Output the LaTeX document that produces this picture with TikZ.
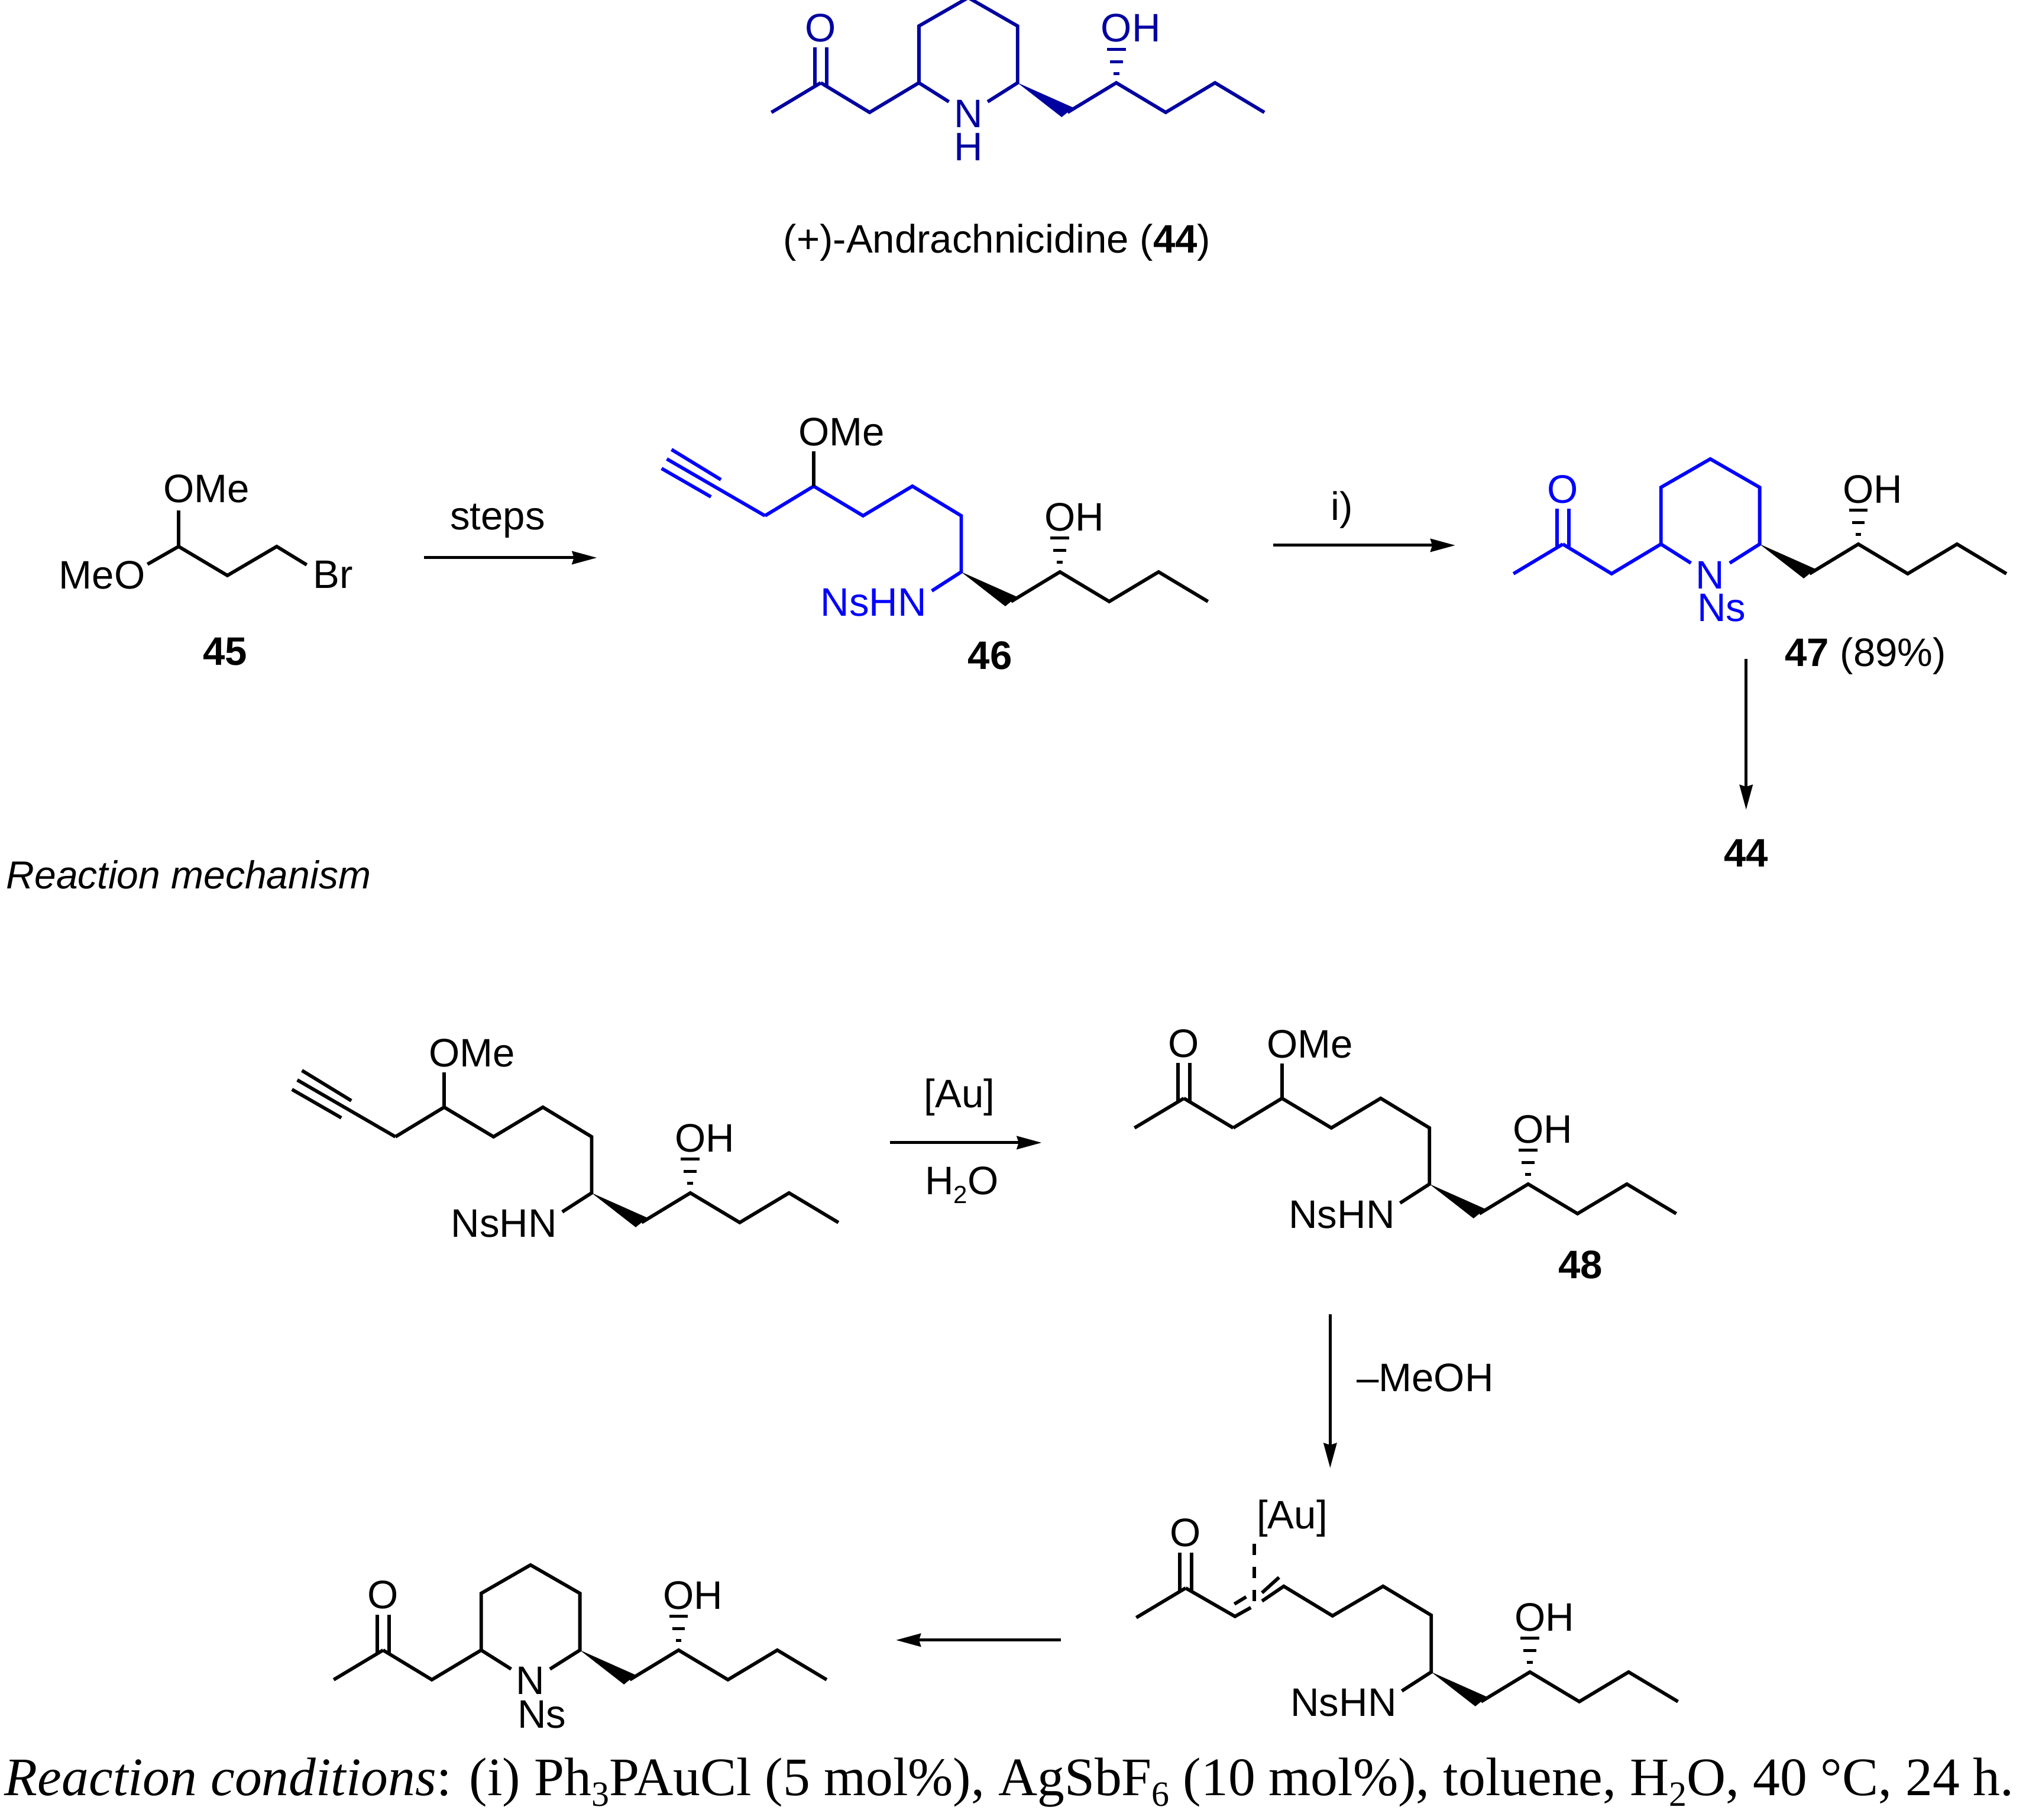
\documentclass[tikz,border=0pt]{standalone}
\usepackage{fontspec}
\setmainfont{Liberation Serif}
\newfontfamily\chemfont{Liberation Sans}
\usetikzlibrary{arrows.meta}
\definecolor{andblue}{RGB}{0,0,160}
\definecolor{purblue}{RGB}{0,0,255}
\newcommand{\chemtext}{\fontsize{16.8}{19}\selectfont\chemfont}
\newcommand{\subdigit}[1]{\raisebox{-3.75pt}{\fontsize{10.5}{12}\selectfont #1}}
\newcommand{\subserif}[1]{\raisebox{-4.5pt}{\fontsize{15}{16}\selectfont #1}}

\tikzset{
  bond/.style={line width=1.45pt},
  atom/.style={inner sep=0pt,outer sep=0pt,font=\chemtext},
  rxnarrow/.style={line width=1.25pt,-{Stealth[length=10.5pt,width=5.5pt,inset=0.8pt]}}
}

% hydroxy tail, origin on the carbon carrying the wedge
\newcommand{\tailpart}{
\fill (0,0)--(75,58)--(95,42)--cycle;
\draw[bond] (85,50)--(168,0)--(252,50)--(336,0)--(420,50);
\fill (152,-59.5) rectangle (184,-54.5);
\fill (157,-38.5) rectangle (179,-33.5);
\fill (163,-18.5) rectangle (173,-13.5);
\node[atom,anchor=base west] (oh) at (142,-69.5) {OH};
}

% ring, origin on the same carbon
\newcommand{\ringpart}{
\draw[bond] (-117,32)--(-168,0)--(-168,-96)--(-84,-144)--(0,-96)--(0,0)--(-51,32);
\draw[bond] (-335,0)--(-252,50)--(-168,0);
\node[atom] (ringn) at (-84,52) {N};
}

% methyl ketone, origin on the carbonyl carbon
\newcommand{\ketonepart}{
\draw[bond] (-84,50)--(0,0);
\draw[bond] (-10,4)--(-10,-60);
\draw[bond] (10,4)--(10,-60);
\node[atom] (keto) at (0,-93) {O};
}

% open chain with NsHN, origin on the carbon carrying the wedge
\newcommand{\chainpart}{
\draw[bond] (-50,32)--(0,0)--(0,-95)--(-83,-145)--(-167,-95)--(-251,-145)--(-334,-95);
\node[atom,anchor=base east] (nshn) at (-59,75) {NsHN};
}

\newcommand{\omepart}{
\draw[bond] (-251,-145)--(-251,-204);
\node[atom,anchor=base west] (ome) at (-277,-213.5) {OMe};
}

\newcommand{\alkynepart}{
\draw[bond] (-334,-95)--(-501,-191);
\draw[bond] (-493,-207)--(-409,-156);
\draw[bond] (-510,-175)--(-426,-127);
}

\begin{document}
\begin{tikzpicture}[x=0.2484pt,y=-0.25pt]
\useasboundingbox (0,0) rectangle (3448.4,3077);

% (+)-Andrachnicidine
\begin{scope}[shift={(1732,140)},name prefix=a-,color=andblue]{
\ringpart
\begin{scope}[shift={(-335,0)}]{\ketonepart} \end{scope}
\tailpart
\node[atom] (ringh) at (-84,108) {H};
} \end{scope}
\node[atom,anchor=base] (title) at (1697,428) {(+)-Andrachnicidine (\textbf{44})};

% 45
\draw[bond] (251,954)--(304,924)--(387,973)--(471,924)--(522,955);
\draw[bond] (304,924)--(304,863);
\node[atom,anchor=base east] (meo) at (247,996) {MeO};
\node[atom,anchor=base west] (ome45) at (278,850) {OMe};
\node[atom,anchor=base west] (br) at (533,995) {Br};
\node[atom,anchor=base] (lab45) at (383,1125) {\textbf{45}};

% steps arrow
\coordinate (stepsfrom) at (722,943);
\coordinate (stepsto) at (1016,943);
\draw[rxnarrow] (stepsfrom)--(stepsto);
\node[atom,anchor=base] (steps) at (847,896) {steps};

% 46
\begin{scope}[shift={(1636,967)},name prefix=b-]{
\begin{scope}[color=purblue]{\chainpart \alkynepart} \end{scope}
\omepart
\tailpart
} \end{scope}
\node[atom,anchor=base] (lab46) at (1685,1132) {\textbf{46}};

% i) arrow
\coordinate (ifrom) at (2167,922);
\coordinate (ito) at (2477,922);
\draw[rxnarrow] (ifrom)--(ito);
\node[atom,anchor=base] (condi) at (2284,880) {i)};

% 47
\begin{scope}[shift={(2995,920)},name prefix=c-]{
\begin{scope}[color=purblue]{
\ringpart
\begin{scope}[shift={(-335,0)}]{\ketonepart} \end{scope}
\node[atom,anchor=base west] (ns) at (-106,131) {Ns};
} \end{scope}
\tailpart
} \end{scope}
\node[atom,anchor=base west] (lab47) at (3038,1127) {\textbf{47} (89\%)};

% 47 to 44
\coordinate (downfrom) at (2972,1114);
\coordinate (downto) at (2972,1369);
\draw[rxnarrow] (downfrom)--(downto);
\node[atom,anchor=base] (lab44) at (2972,1466) {\textbf{44}};

\node[atom,anchor=base west,font=\fontsize{16.5}{19}\selectfont\chemfont\itshape] (mechtitle) at (11,1503) {Reaction mechanism};

% alkyne of the mechanism
\begin{scope}[shift={(1007,2017)},name prefix=d-]{
\chainpart
\alkynepart
\omepart
\tailpart
} \end{scope}

% [Au] arrow
\coordinate (aufrom) at (1515,1932);
\coordinate (auto) at (1773,1932);
\draw[rxnarrow] (aufrom)--(auto);
\node[atom,anchor=base] (auabove) at (1633,1873) {[Au]};
\node[atom,anchor=base] (water) at (1637,2020) {H\subdigit{2}O};

% 48
\begin{scope}[shift={(2433,2002)},name prefix=e-]{
\chainpart
\draw[bond] (-334,-95)--(-418,-145);
\begin{scope}[shift={(-418,-145)}]{\ketonepart} \end{scope}
\omepart
\tailpart
} \end{scope}
\node[atom,anchor=base] (lab48) at (2690,2162) {\textbf{48}};

% MeOH arrow
\coordinate (meohfrom) at (2264,2222);
\coordinate (meohto) at (2264,2482);
\draw[rxnarrow] (meohfrom)--(meohto);
\node[atom,anchor=base west] (meoh) at (2309,2353) {–MeOH};

% gold complex
\begin{scope}[shift={(2436,2827)},name prefix=f-]{
\draw[bond] (-50,32)--(0,0)--(0,-96)--(-82,-145)--(-168,-95)--(-251,-145)--(-288,-120);
\draw[bond] (-307,-109)--(-334,-94)--(-418,-142);
\draw[bond] (-335,-115)--(-315,-127);
\draw[bond] (-288,-134)--(-259,-160);
\draw[bond,dash pattern=on 4.75pt off 5pt] (-301,-217)--(-301,-120);
\node[atom,anchor=base east] (nshn) at (-59,75) {NsHN};
\node[atom,anchor=base west] (auf) at (-297,-242) {[Au]};
\begin{scope}[shift={(-418,-142)}]{\ketonepart} \end{scope}
\tailpart
} \end{scope}

% last arrow
\coordinate (lastfrom) at (1806,2773);
\coordinate (lastto) at (1525,2773);
\draw[rxnarrow] (lastfrom)--(lastto);

% ring of the mechanism
\begin{scope}[shift={(987,2790)},name prefix=g-]{
\ringpart
\begin{scope}[shift={(-335,0)}]{\ketonepart} \end{scope}
\node[atom,anchor=base west] (ns) at (-106,132) {Ns};
\tailpart
} \end{scope}

% conditions
\node[inner sep=0pt,outer sep=0pt,anchor=base west,font=\fontsize{22.9}{27}\selectfont] (conditions) at (8,3036)
{\textit{Reaction conditions}: (i) Ph\subserif{3}PAuCl (5 mol\%), AgSbF\subserif{6} (10 mol\%), toluene, H\subserif{2}O, 40 °C, 24 h.};

\end{tikzpicture}
\end{document}
